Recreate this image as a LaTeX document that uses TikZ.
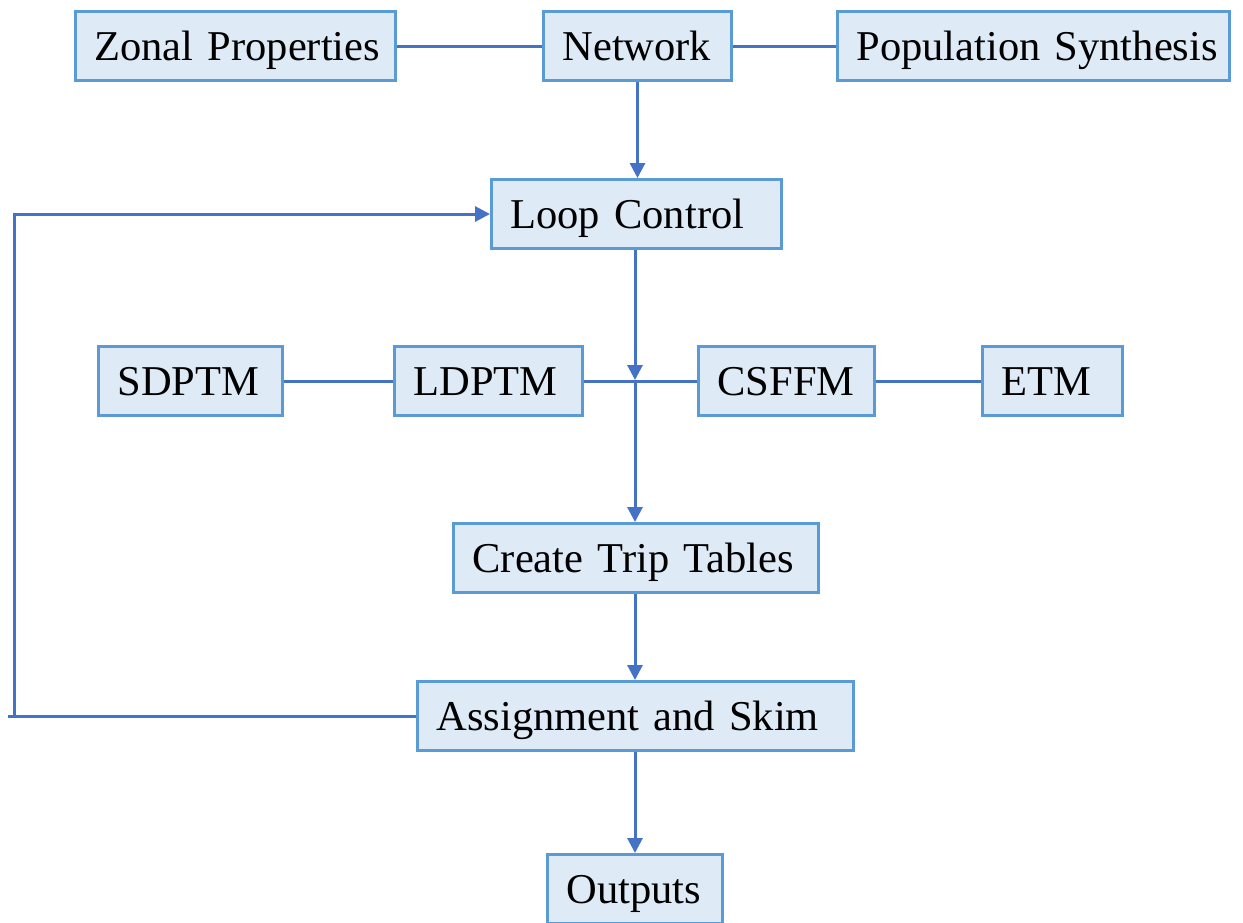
\documentclass[tikz,border=0pt]{standalone}
\usepackage{fontspec}
\setmainfont{Liberation Serif}
\usetikzlibrary{arrows.meta}
\definecolor{boxfill}{HTML}{DEEBF7}
\definecolor{boxline}{HTML}{5B9BD5}
\definecolor{conncol}{HTML}{4472C4}
\tikzset{
  box/.style={draw=boxline, fill=boxfill, line width=3pt, anchor=north west,
    inner xsep=19pt, inner ysep=0pt, align=left, minimum height=69pt,
    text height=28.5pt, text depth=0pt,
    font=\fontsize{42.5}{50}\selectfont},
  conn/.style={draw=conncol, line width=3pt},
  arr/.style={conn, -{Triangle[length=15pt,width=15pt]}}
}
\begin{document}
\begin{tikzpicture}[x=1pt,y=-1pt]
\clip (0,0) rectangle (1243,922);
\fill[white] (0,0) rectangle (1243,922);
\node[box, text width=282pt] (zp) at (74,10) {\mbox{Zonal Properties}};
\node[box, text width=150pt] (net) at (542,10) {\mbox{Network}};
\node[box, text width=354pt] (pop) at (836,10) {\mbox{Population Synthesis}};
\node[box, text width=252pt] (loop) at (490,178) {\mbox{Loop Control}};
\node[box, text width=146pt] (sdptm) at (97,345) {\mbox{SDPTM}};
\node[box, text width=150pt] (ldptm) at (393,345) {\mbox{LDPTM}};
\node[box, text width=138pt] (csffm) at (697,345) {\mbox{CSFFM}};
\node[box, text width=102pt] (etm) at (981,345) {\mbox{ETM}};
\node[box, text width=327pt] (ctt) at (452,522) {\mbox{Create Trip Tables}};
\node[box, text width=398pt] (as) at (416,680) {\mbox{Assignment and Skim}};
\node[box, text width=137pt] (out) at (546,853) {\mbox{Outputs}};
\coordinate (J) at (635,380);
\coordinate (fbend) at (8,716);
\coordinate (fbcorner) at (14,716);
\draw[conn] (zp.east) -- (net.west);
\draw[conn] (net.east) -- (pop.west);
\draw[arr] (net.south) -- (net.south |- loop.north);
\draw[arr] (J |- loop.south) -- (J);
\draw[conn] (sdptm.east) -- (ldptm.west);
\draw[conn] (ldptm.east) -- (csffm.west);
\draw[conn] (csffm.east) -- (etm.west);
\draw[arr] (J) -- (J |- ctt.north);
\draw[arr] (J |- ctt.south) -- (J |- as.north);
\draw[arr] (J |- as.south) -- (J |- out.north);
\draw[conn] (as.west |- fbend) -- (fbend);
\draw[arr] (fbcorner) |- (loop.west);
\end{tikzpicture}
\end{document}
